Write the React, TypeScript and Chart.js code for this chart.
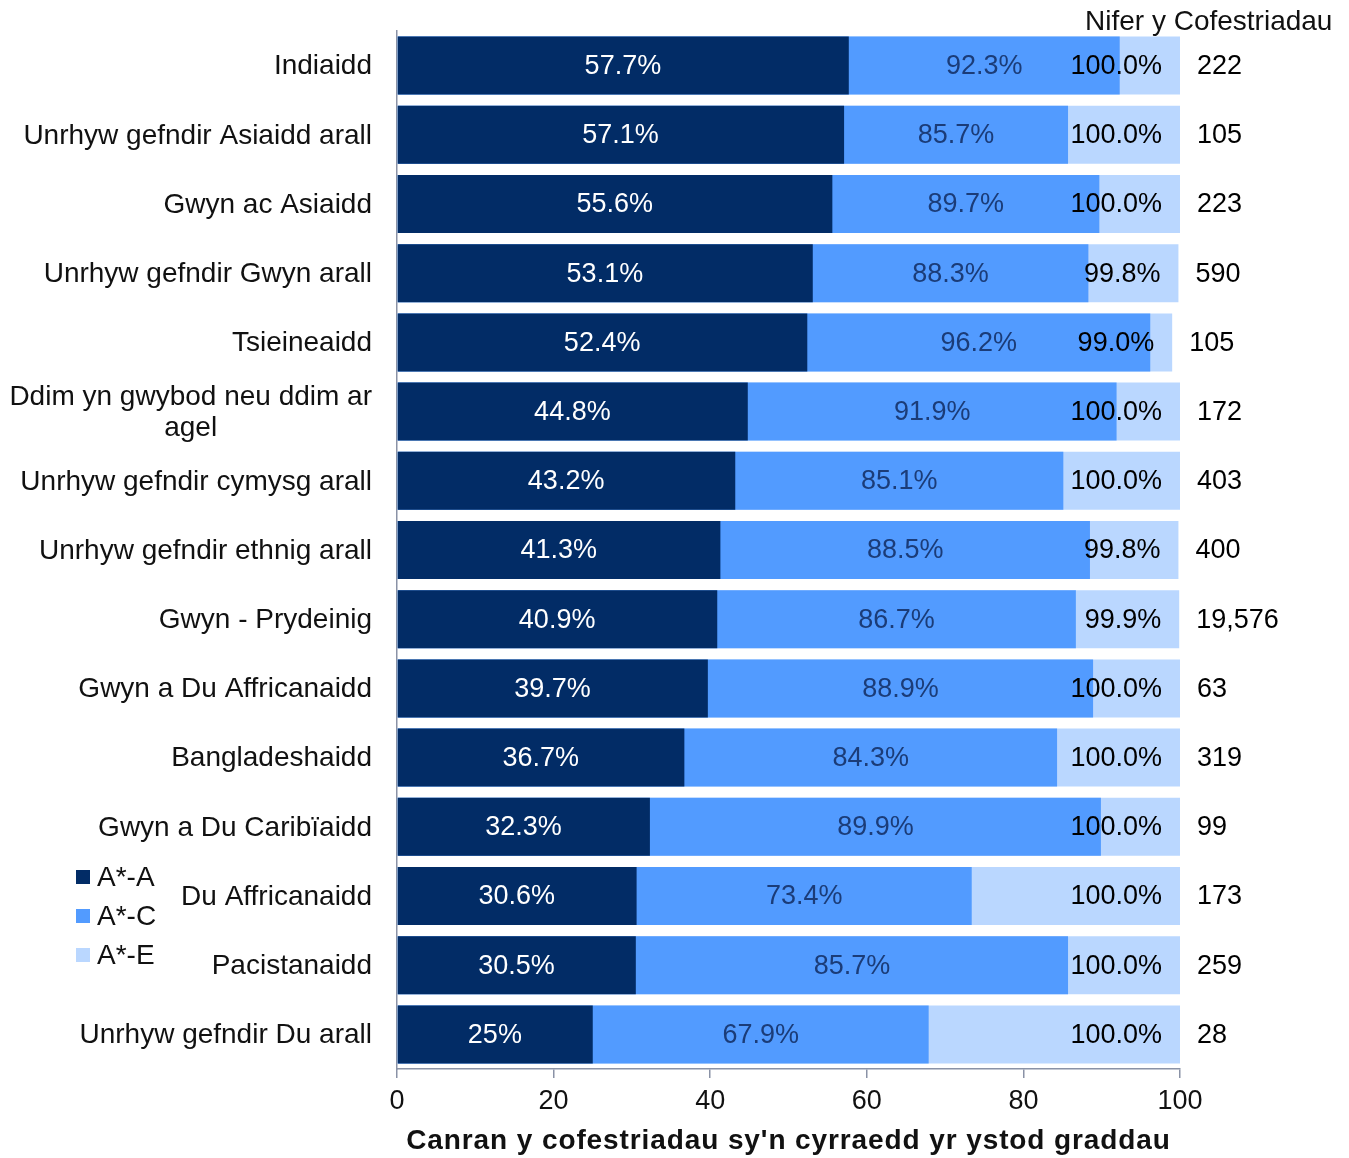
import React, { useEffect, useRef } from 'react';
import { Chart, registerables } from 'chart.js';

Chart.register(...registerables);

// ---- data ----
const categories: (string | string[])[] = [
  'Indiaidd',
  'Unrhyw gefndir Asiaidd arall',
  'Gwyn ac Asiaidd',
  'Unrhyw gefndir Gwyn arall',
  'Tsieineaidd',
  ['Ddim yn gwybod neu ddim ar', 'agel'],
  'Unrhyw gefndir cymysg arall',
  'Unrhyw gefndir ethnig arall',
  'Gwyn - Prydeinig',
  'Gwyn a Du Affricanaidd',
  'Bangladeshaidd',
  'Gwyn a Du Caribïaidd',
  'Du Affricanaidd',
  'Pacistanaidd',
  'Unrhyw gefndir Du arall',
];

const seriesNames = ['A*-A', 'A*-C', 'A*-E'];

const gradeAA = [57.7, 57.1, 55.6, 53.1, 52.4, 44.8, 43.2, 41.3, 40.9, 39.7, 36.7, 32.3, 30.6, 30.5, 25];
const gradeAC = [92.3, 85.7, 89.7, 88.3, 96.2, 91.9, 85.1, 88.5, 86.7, 88.9, 84.3, 89.9, 73.4, 85.7, 67.9];
const gradeAE = [100, 100, 100, 99.8, 99.0, 100, 100, 99.8, 99.9, 100, 100, 100, 100, 100, 100];
const entries = [222, 105, 223, 590, 105, 172, 403, 400, 19576, 63, 319, 99, 173, 259, 28];

const xTickValues = [0, 20, 40, 60, 80, 100];
const countHeader = 'Nifer y Cofestriadau';
const xTitle = "Canran y cofestriadau sy'n cyrraedd yr ystod graddau";

// ---- styles ----
const FONT = '"Liberation Sans", Arial, Helvetica, sans-serif';
const FS = 27;
const FS_CAT = 28;
const DARK = '#022C66';
const MID = '#529BFF';
const LIGHT = '#BAD7FF';
const MID_LABEL = '#1B3C78';
const AXIS = '#8A92A6';
const W = 1349;
const H = 1158;

const labelPlugin = {
  id: 'customLabels',
  afterDraw(chart: any) {
    const { ctx } = chart;
    const x = chart.scales.x;
    const y = chart.scales.y;
    ctx.save();
    ctx.textBaseline = 'middle';
    const x0 = x.getPixelForValue(0);

    categories.forEach((cat, i) => {
      const yc = y.getPixelForValue(i);
      const ty = yc + 1;
      const xa = x.getPixelForValue(gradeAA[i]);
      const xc = x.getPixelForValue(gradeAC[i]);
      const xe = x.getPixelForValue(gradeAE[i]);

      ctx.font = `${FS}px ${FONT}`;
      ctx.textAlign = 'center';
      ctx.fillStyle = '#FFFFFF';
      ctx.fillText(`${gradeAA[i]}%`, (x0 + xa) / 2, ty);

      ctx.fillStyle = MID_LABEL;
      ctx.fillText(`${gradeAC[i].toFixed(1)}%`, (xa + xc) / 2, ty);

      ctx.textAlign = 'right';
      ctx.fillStyle = '#000000';
      ctx.fillText(`${gradeAE[i].toFixed(1)}%`, xe - 18, ty);

      ctx.textAlign = 'left';
      ctx.fillText(entries[i].toLocaleString('en-GB'), xe + 17, ty);

      // category labels (multi-line centred within a right-aligned block)
      ctx.font = `${FS_CAT}px ${FONT}`;
      const lines = Array.isArray(cat) ? cat : [cat];
      const blockW = Math.max(...lines.map((l) => ctx.measureText(l).width));
      const right = x0 - 25;
      ctx.textAlign = 'center';
      ctx.fillStyle = '#111111';
      lines.forEach((l, k) => {
        const ly = ty + (k - (lines.length - 1) / 2) * 31;
        ctx.fillText(l, right - blockW / 2, ly);
      });
    });

    // header for counts
    ctx.font = `${FS_CAT}px ${FONT}`;
    ctx.textAlign = 'left';
    ctx.fillStyle = '#111111';
    ctx.fillText(countHeader, 1085, 22);

    // legend
    const legendY = [877, 916, 955];
    chart.data.datasets.forEach((ds: any, d: number) => {
      const cy = legendY[d];
      ctx.fillStyle = ds.backgroundColor;
      ctx.fillRect(76, cy - 7, 14, 14);
      ctx.fillStyle = '#111111';
      ctx.textAlign = 'left';
      ctx.fillText(ds.label, 97, cy + 1);
    });

    // x axis title
    ctx.font = `bold ${FS_CAT}px ${FONT}`;
    (ctx as any).letterSpacing = '0.9px';
    ctx.textAlign = 'center';
    ctx.fillStyle = '#111111';
    ctx.fillText(xTitle, (x.left + x.right) / 2, 1141);
    (ctx as any).letterSpacing = '0px';
    ctx.restore();
  },
};

export default function App() {
  const ref = useRef<HTMLCanvasElement | null>(null);

  useEffect(() => {
    if (!ref.current) return;
    const chart = new Chart(ref.current, {
      type: 'bar',
      data: {
        labels: categories as any,
        datasets: [
          { label: seriesNames[0], data: gradeAA, backgroundColor: DARK },
          { label: seriesNames[1], data: gradeAC, backgroundColor: MID },
          { label: seriesNames[2], data: gradeAE, backgroundColor: LIGHT },
        ],
      },
      options: {
        indexAxis: 'y',
        animation: false,
        responsive: false,
        maintainAspectRatio: false,
        layout: { padding: { left: 0, right: 169, top: 31, bottom: 0 } },
        datasets: {
          bar: { barPercentage: 0.838, categoryPercentage: 1, grouped: false, borderWidth: 0 } as any,
        },
        scales: {
          x: {
            type: 'linear',
            min: 0,
            max: 100,
            afterBuildTicks: (scale: any) => {
              scale.ticks = xTickValues.map((v) => ({ value: v }));
            },
            afterFit: (scale: any) => {
              scale.height = 89;
            },
            ticks: {
              color: '#111111',
              font: { family: FONT, size: FS },
              padding: 7,
              maxRotation: 0,
            },
            grid: {
              drawOnChartArea: false,
              drawTicks: true,
              tickLength: 9,
              color: AXIS,
              lineWidth: 1.5,
            },
            border: { display: true, color: AXIS, width: 1.5 },
            title: { display: false },
          },
          y: {
            type: 'category',
            afterFit: (scale: any) => {
              scale.width = 397;
            },
            ticks: { display: false },
            grid: { display: false, drawTicks: false },
            border: { display: true, color: AXIS, width: 1.5 },
          },
        },
        plugins: {
          legend: { display: false },
          tooltip: { enabled: false },
        },
      },
      plugins: [labelPlugin],
    });
    return () => chart.destroy();
  }, []);

  return (
    <div style={{ position: 'absolute', left: 0, top: 0, width: W, height: H, background: '#fff' }}>
      <canvas ref={ref} width={W} height={H} style={{ display: 'block' }} />
    </div>
  );
}
